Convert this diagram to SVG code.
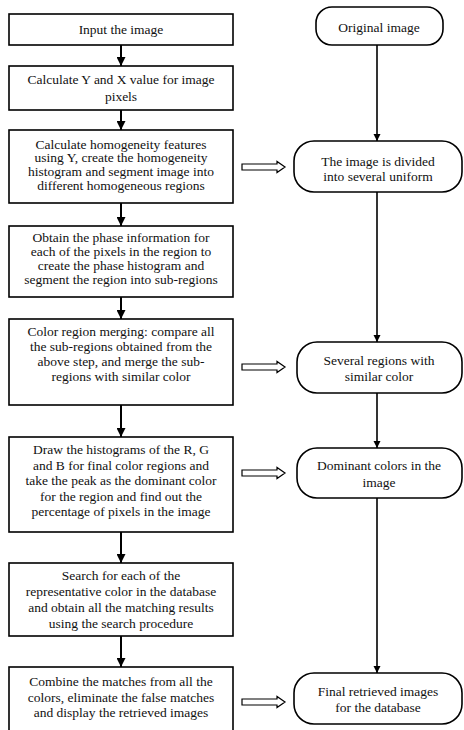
<svg xmlns="http://www.w3.org/2000/svg" width="464" height="730" viewBox="0 0 464 730">
<defs>
<marker id="ah" viewBox="0 0 10 10" refX="10" refY="5" markerWidth="4.5" markerHeight="4.5" orient="auto" markerUnits="strokeWidth">
<path d="M0,0 L10,5 L0,10 z" fill="#000"/>
</marker>
<style>
.box{fill:#fff;stroke:#000;stroke-width:1.6}
.rbox{fill:#fff;stroke:#000;stroke-width:1.6}
.t{font-size:13.5px;fill:#111;text-anchor:middle}
.ln{stroke:#000;stroke-width:2;fill:none;marker-end:url(#ah)}
.rl{stroke:#000;stroke-width:1.6;fill:none;marker-end:url(#ah)}
.hol{fill:#fff;stroke:#000;stroke-width:1.2}
</style>
</defs>
<rect width="464" height="730" fill="#fff"/>
<g id="connectors">
<line class="ln" x1="121" y1="45" x2="121" y2="66"/>
<line class="ln" x1="121" y1="110" x2="121" y2="130"/>
<line class="ln" x1="121" y1="203" x2="121" y2="226"/>
<line class="ln" x1="121" y1="297" x2="121" y2="319"/>
<line class="ln" x1="121" y1="405" x2="121" y2="437"/>
<line class="ln" x1="121" y1="532" x2="121" y2="563"/>
<line class="ln" x1="121" y1="636" x2="121" y2="667"/>
<line class="rl" x1="377" y1="45" x2="377" y2="141"/>
<line class="rl" x1="377" y1="192" x2="377" y2="342"/>
<line class="rl" x1="377" y1="393" x2="377" y2="448"/>
<line class="rl" x1="377" y1="498" x2="377" y2="673"/>
<path class="hol" d="M242,164 H277 V161.5 L285,167 L277,172.5 V170 H242 Z"/>
<path class="hol" d="M242,364 H277 V361.5 L285,367 L277,372.5 V370 H242 Z"/>
<path class="hol" d="M242,470 H277 V467.5 L285,473 L277,478.5 V476 H242 Z"/>
<path class="hol" d="M242,699 H277 V696.5 L285,702 L277,707.5 V705 H242 Z"/>
</g>
<g font-family="'Liberation Serif', 'DejaVu Serif', serif">
<g id="n1"><rect class="box" x="9" y="14" width="224" height="31"/>
<text class="t" x="121" y="34">Input the image</text></g>
<g id="n2"><rect class="box" x="9" y="66" width="224" height="44"/>
<text class="t" x="121" y="84">Calculate Y and X value for image</text>
<text class="t" x="121" y="101">pixels</text></g>
<g id="n3"><rect class="box" x="9" y="130" width="224" height="73"/>
<text class="t" x="121" y="148.5">Calculate homogeneity features</text>
<text class="t" x="121" y="162.3">using Y, create the homogeneity</text>
<text class="t" x="121" y="176.1">histogram and segment image into</text>
<text class="t" x="121" y="190">different homogeneous regions</text></g>
<g id="n4"><rect class="box" x="9" y="226" width="224" height="71"/>
<text class="t" x="121" y="242">Obtain the phase information for</text>
<text class="t" x="121" y="256">each of the pixels in the region to</text>
<text class="t" x="121" y="270">create the phase histogram and</text>
<text class="t" x="121" y="284">segment the region into sub-regions</text></g>
<g id="n5"><rect class="box" x="9" y="319" width="224" height="86"/>
<text class="t" x="121" y="336">Color region merging: compare all</text>
<text class="t" x="121" y="351">the sub-regions obtained from the</text>
<text class="t" x="121" y="366">above step, and merge the sub-</text>
<text class="t" x="121" y="381">regions with similar color</text></g>
<g id="n6"><rect class="box" x="9" y="437" width="224" height="95"/>
<text class="t" x="121" y="454">Draw the histograms of the R, G</text>
<text class="t" x="121" y="469.5">and B for final color regions and</text>
<text class="t" x="121" y="485">take the peak as the dominant color</text>
<text class="t" x="121" y="500.5">for the region and find out the</text>
<text class="t" x="121" y="516">percentage of pixels in the image</text></g>
<g id="n7"><rect class="box" x="9" y="563" width="224" height="73"/>
<text class="t" x="121" y="580">Search for each of the</text>
<text class="t" x="121" y="596">representative color in the database</text>
<text class="t" x="121" y="612">and obtain all the matching results</text>
<text class="t" x="121" y="628">using the search procedure</text></g>
<g id="n8"><rect class="box" x="9" y="667" width="224" height="70"/>
<text class="t" x="121" y="686">Combine the matches from all the</text>
<text class="t" x="121" y="701.5">colors, eliminate the false matches</text>
<text class="t" x="121" y="717">and display the retrieved images</text></g>
<g id="r1"><rect class="rbox" x="316" y="7" width="127" height="38" rx="16" ry="16"/>
<text class="t" x="379" y="32">Original image</text></g>
<g id="r2"><rect class="rbox" x="294" y="141" width="168" height="51" rx="20" ry="20"/>
<text class="t" x="378" y="166">The image is divided</text>
<text class="t" x="378" y="181">into several uniform</text></g>
<g id="r3"><rect class="rbox" x="297" y="342" width="165" height="51" rx="20" ry="20"/>
<text class="t" x="379" y="365">Several regions with</text>
<text class="t" x="379" y="381">similar color</text></g>
<g id="r4"><rect class="rbox" x="297" y="448" width="165" height="50" rx="20" ry="20"/>
<text class="t" x="379" y="470">Dominant colors in the</text>
<text class="t" x="379" y="487">image</text></g>
<g id="r5"><rect class="rbox" x="294" y="673" width="168" height="51" rx="20" ry="20"/>
<text class="t" x="378" y="696">Final retrieved images</text>
<text class="t" x="378" y="712">for the database</text></g>
</g>
</svg>
